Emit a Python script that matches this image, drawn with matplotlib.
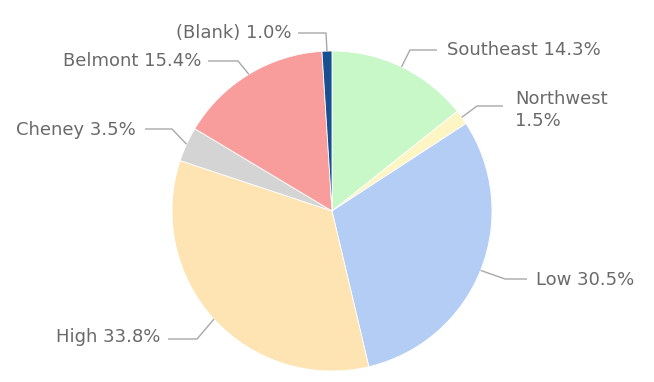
import numpy as np
import matplotlib.pyplot as plt

labels = ["Southeast", "Northwest", "Low", "High", "Cheney", "Belmont", "(Blank)"]
shares = [14.3, 1.5, 30.5, 33.8, 3.5, 15.4, 1.0]
colors = ["#c8f7c8", "#fdf6c4", "#b4cdf4", "#fde4b2", "#d4d4d4", "#f89c9c", "#174f90"]

# label layout in pixel coords (y from top):
# text anchor, elbow of leader line, end of horizontal part, alignment
label_pos = {
    "Southeast": ((447, 50), (410, 50), 437, "left"),
    "Northwest": ((515, 110), (477, 106), 503, "left"),
    "Low": ((536, 280), (505, 279), 527, "left"),
    "High": ((160, 337), (197, 339), 168, "right"),
    "Cheney": ((136, 130), (172, 129), 145, "right"),
    "Belmont": ((201, 61), (238, 61), 208, "right"),
    "(Blank)": ((291, 33), (326, 33), 298, "right"),
}

W, H = 654, 382
cx, cy, r = 332, H - 211, 160

fig = plt.figure(figsize=(W / 100, H / 100), dpi=100)
ax = fig.add_axes([0, 0, 1, 1])

wedges, _ = ax.pie(shares, colors=colors, startangle=90, counterclock=False,
                   center=(cx, cy), radius=r, frame=True,
                   wedgeprops=dict(linewidth=0.6, edgecolor="white"))
ax.set_xlim(0, W)
ax.set_ylim(0, H)
ax.axis("off")

for w, lab, val in zip(wedges, labels, shares):
    ang = np.deg2rad((w.theta1 + w.theta2) / 2)
    px, py = cx + r * np.cos(ang), cy + r * np.sin(ang)
    (tx, ty), (ex, ey), lx, ha = label_pos[lab]
    ty, ey = H - ty, H - ey
    if lab == "Northwest":
        txt = f"{lab}\n{val}%"
    else:
        txt = f"{lab} {val}%"
    # leader line: wedge edge -> elbow -> near the text
    ax.plot([px, ex, lx], [py, ey, ey], color="#a8a8a8", lw=1.0,
            solid_capstyle="butt", solid_joinstyle="round")
    ax.text(tx, ty, txt, ha=ha, va="center", fontsize=13, color="#6a6a6a",
            family="DejaVu Sans", linespacing=1.35)

fig.savefig("out.png", dpi=100)
